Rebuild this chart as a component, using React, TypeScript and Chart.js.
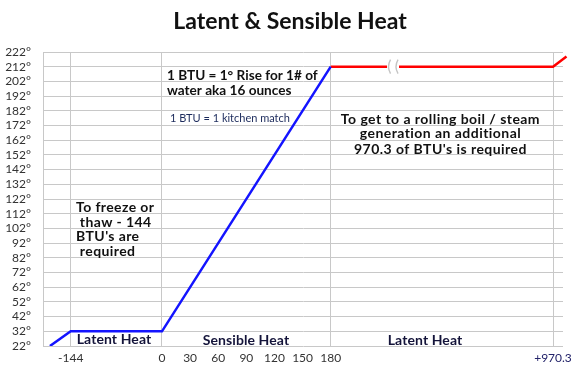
import React, { useEffect, useRef } from 'react';
import { Chart, registerables, LinearScale } from 'chart.js';

Chart.register(...registerables);

// ---------- data ----------
const iceWaterBtu = [-174, -144, 0, 180];
const iceWaterTemp = [22, 32, 32, 212];
const steamBtu = [180, 1150.3, 1177.3];
const steamTemp = [212, 212, 219];
const xTickValues = [-144, 0, 30, 60, 90, 120, 150, 180, 1150.3];
const xTickLabels = ['-144', '0', '30', '60', '90', '120', '150', '180', '+970.3'];
const xGridValues = [-144, 0, 180, 1150.3];
const yMin = 22;
const yMax = 222;
const yStep = 10;

// ---------- broken (piecewise) axis layout ----------
const AXIS_BREAK_VALUES = [-184, -144, 0, 180, 1150.3, 1170.3];
const AXIS_BREAK_FRACTIONS = [0, 0.0533, 0.2288, 0.5533, 0.9808, 1];
const BREAK_MARK_VALUE = 452;

const FONT = 'Lato, "Liberation Sans", "DejaVu Sans", sans-serif';
const GRID = '#c8c8c8';

class BrokenLinearScale extends LinearScale {
  static id = 'brokenLinear';

  _fracForValue(value: number) {
    const d = AXIS_BREAK_VALUES;
    const f = AXIS_BREAK_FRACTIONS;
    let i = 0;
    while (i < d.length - 2 && value > d[i + 1]) i++;
    const t = (value - d[i]) / (d[i + 1] - d[i]);
    return f[i] + t * (f[i + 1] - f[i]);
  }

  _valueForFrac(frac: number) {
    const d = AXIS_BREAK_VALUES;
    const f = AXIS_BREAK_FRACTIONS;
    let i = 0;
    while (i < f.length - 2 && frac > f[i + 1]) i++;
    const t = (frac - f[i]) / (f[i + 1] - f[i]);
    return d[i] + t * (d[i + 1] - d[i]);
  }

  getPixelForValue(value: any) {
    if (value === null || value === undefined || isNaN(value)) return NaN;
    const frac = this._fracForValue(+value);
    return this.isHorizontal() ? this.left + frac * this.width : this.bottom - frac * this.height;
  }

  getValueForPixel(pixel: number) {
    const frac = this.isHorizontal() ? (pixel - this.left) / this.width : (this.bottom - pixel) / this.height;
    return this._valueForFrac(frac);
  }
}
Chart.register(BrokenLinearScale as any);

type Note = {
  lines: string[];
  x: number;
  ys: number[];
  align: CanvasTextAlign;
  font: string;
  color: string;
  spacing: string;
};

const NOTES: Note[] = [
  {
    lines: ['1 BTU = 1° Rise for 1# of', 'water aka 16 ounces'],
    x: 5.3,
    ys: [205.7, 195.9],
    align: 'left',
    font: `bold 13.6px ${FONT}`,
    color: '#111111',
    spacing: '0px',
  },
  {
    lines: ['1 BTU = 1 kitchen match'],
    x: 8.5,
    ys: [176.9],
    align: 'left',
    font: `11px ${FONT}`,
    color: '#1c2b5c',
    spacing: '0px',
  },
  {
    lines: ['To get to a rolling boil / steam', 'generation an additional', "970.3 of BTU's is required"],
    x: 659,
    ys: [176.2, 166.4, 155.6],
    align: 'center',
    font: `bold 14px ${FONT}`,
    color: '#111111',
    spacing: '0.45px',
  },
  {
    lines: ['To freeze or', ' thaw - 144', "BTU's are", ' required'],
    x: -135.6,
    ys: [116.4, 106.2, 96.2, 86.4],
    align: 'left',
    font: `bold 14px ${FONT}`,
    color: '#111111',
    spacing: '0.4px',
  },
  {
    lines: ['Latent Heat'],
    x: -75.7,
    ys: [26.3],
    align: 'center',
    font: `bold 14px ${FONT}`,
    color: '#14143a',
    spacing: '0.1px',
  },
  {
    lines: ['Sensible Heat'],
    x: 89.6,
    ys: [26.0],
    align: 'center',
    font: `bold 14px ${FONT}`,
    color: '#14143a',
    spacing: '0.1px',
  },
  {
    lines: ['Latent Heat'],
    x: 591.6,
    ys: [26.0],
    align: 'center',
    font: `bold 14px ${FONT}`,
    color: '#14143a',
    spacing: '0.1px',
  },
];

const decorPlugin = {
  id: 'decor',
  afterDatasetsDraw(chart: any) {
    const { ctx, scales } = chart;
    const xs = scales.x;
    const ys = scales.y;
    ctx.save();

    // break mark on the steam line
    const bx = xs.getPixelForValue(BREAK_MARK_VALUE);
    const by = ys.getPixelForValue(212);
    ctx.fillStyle = '#ffffff';
    ctx.fillRect(bx - 6, by - 3, 12, 6);
    ctx.strokeStyle = '#c4c4c4';
    ctx.lineWidth = 1.4;
    [-4, 3.5].forEach((dx) => {
      const cx = bx + dx;
      ctx.beginPath();
      ctx.moveTo(cx + 1.5, by - 7);
      ctx.quadraticCurveTo(cx - 2.5, by, cx + 1.5, by + 7);
      ctx.stroke();
    });

    // text notes
    ctx.textBaseline = 'middle';
    NOTES.forEach((n) => {
      ctx.font = n.font;
      (ctx as any).letterSpacing = n.spacing;
      ctx.fillStyle = n.color;
      ctx.textAlign = n.align;
      const px = xs.getPixelForValue(n.x);
      n.lines.forEach((line, i) => {
        ctx.fillText(line, px, ys.getPixelForValue(n.ys[i]));
      });
    });

    // title
    ctx.font = `bold 23px ${FONT}`;
    (ctx as any).letterSpacing = '0px';
    ctx.fillStyle = '#111111';
    ctx.textAlign = 'center';
    ctx.fillText('Latent & Sensible Heat', chart.width / 2, 21.5);
    ctx.restore();
  },
};

export default function App() {
  const canvasRef = useRef<HTMLCanvasElement | null>(null);

  useEffect(() => {
    document.body.style.margin = '0';
    const canvas = canvasRef.current;
    if (!canvas) return;

    const chart = new Chart(canvas, {
      type: 'line',
      data: {
        datasets: [
          {
            label: 'Ice / Water',
            data: iceWaterBtu.map((x, i) => ({ x, y: iceWaterTemp[i] })),
            borderColor: '#1414ff',
            borderWidth: 2.5,
            pointRadius: 0,
            fill: false,
            tension: 0,
          },
          {
            label: 'Steam',
            data: steamBtu.map((x, i) => ({ x, y: steamTemp[i] })),
            borderColor: '#ff0000',
            borderWidth: 2.5,
            pointRadius: 0,
            fill: false,
            tension: 0,
            clip: false as any,
          },
        ],
      },
      plugins: [decorPlugin],
      options: {
        animation: false,
        responsive: false,
        devicePixelRatio: 1,
        layout: { padding: { top: 52, left: 0, right: 17, bottom: 0 } },
        plugins: {
          legend: { display: false },
          title: { display: false },
          tooltip: { enabled: false },
        },
        scales: {
          x: {
            type: 'brokenLinear' as any,
            min: AXIS_BREAK_VALUES[0],
            max: AXIS_BREAK_VALUES[AXIS_BREAK_VALUES.length - 1],
            afterBuildTicks: (scale: any) => {
              scale.ticks = xTickValues.map((v) => ({ value: v }));
            },
            afterFit: (scale: any) => {
              scale.height = 43;
            },
            ticks: {
              autoSkip: false,
              maxRotation: 0,
              padding: 5,
              font: { family: FONT, size: 12 },
              color: (ctx: any) => (ctx.index === xTickLabels.length - 1 ? '#23236a' : '#333333'),
              callback: (_v: any, i: number) => xTickLabels[i],
            },
            grid: {
              drawTicks: false,
              lineWidth: 1,
              color: (ctx: any) =>
                ctx.tick && xGridValues.includes(ctx.tick.value) ? GRID : 'rgba(0,0,0,0)',
            },
            border: { display: false },
          },
          y: {
            type: 'linear',
            min: yMin,
            max: yMax,
            afterFit: (scale: any) => {
              scale.width = 43;
            },
            ticks: {
              stepSize: yStep,
              autoSkip: false,
              padding: 12,
              font: { family: FONT, size: 12 },
              color: '#333333',
              callback: (v: any) => `${v}°`,
            },
            grid: { drawTicks: false, color: GRID, lineWidth: 1 },
            border: { display: true, color: GRID, width: 1 },
          },
        },
      },
    });

    return () => chart.destroy();
  }, []);

  return (
    <div style={{ position: 'relative', width: 580, height: 389, background: '#ffffff' }}>
      <canvas ref={canvasRef} width={580} height={389} />
    </div>
  );
}
